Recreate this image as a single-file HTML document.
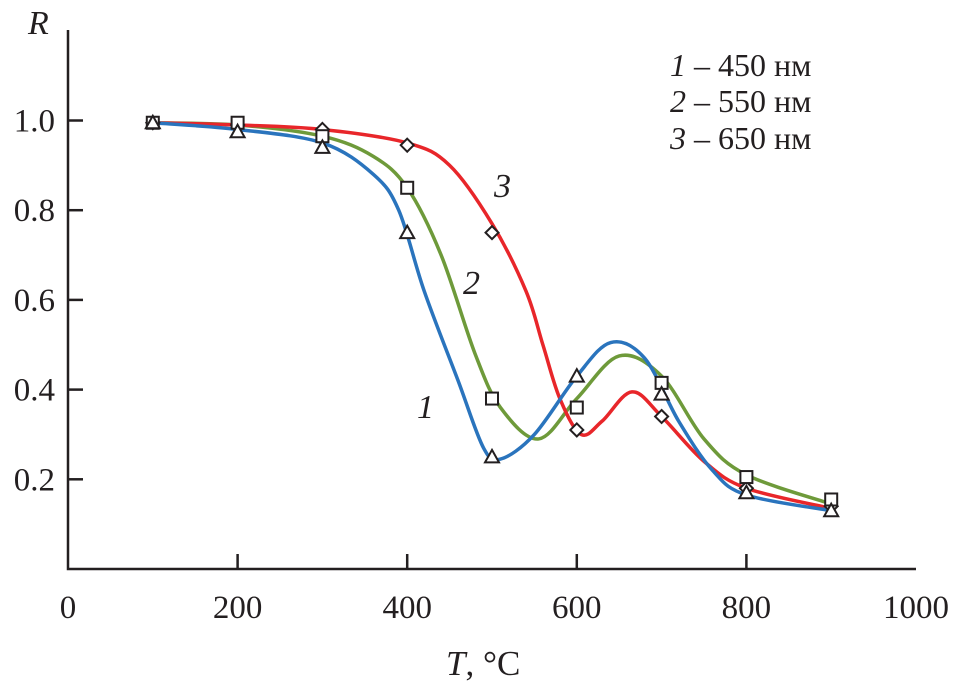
<!DOCTYPE html>
<html><head><meta charset="utf-8"><style>
body{margin:0;background:#fff}
svg text{font-family:"Liberation Serif",serif;fill:#231f20}
</style></head><body>
<svg id="chart" width="957" height="687" viewBox="0 0 957 687" xmlns="http://www.w3.org/2000/svg">
<g id="axes"></g>
<g id="curves"></g>
<g id="marks"></g>
<text x="28" y="34" font-size="34" font-style="italic">R</text>
<text x="446" y="675" font-size="35"><tspan font-style="italic">T</tspan>, °C</text>
<g font-size="32">
<text x="670" y="76"><tspan font-style="italic">1</tspan> – 450 нм</text>
<text x="670" y="112"><tspan font-style="italic">2</tspan> – 550 нм</text>
<text x="670" y="149"><tspan font-style="italic">3</tspan> – 650 нм</text>
</g>
<text x="417" y="418" font-size="34" font-style="italic">1</text>
<text x="463" y="294" font-size="34" font-style="italic">2</text>
<text x="494" y="197" font-size="34" font-style="italic">3</text>
</svg>
<script>
const xTicks=[0,200,400,600,800,1000];
const yTicks=[0.2,0.4,0.6,0.8,1.0];
const tempPoints=[100,200,300,400,500,600,700,800,900];
const s1Points=[0.995,0.975,0.94,0.75,0.25,0.43,0.39,0.17,0.13];
const s2Points=[0.995,0.995,0.965,0.85,0.38,0.36,0.415,0.205,0.155];
const s3Points=[0.995,0.99,0.98,0.945,0.75,0.31,0.34,0.18,0.14];
const c1X=[100,200,300,360,390,420,460,490,510,550,600,640,680,720,760,800,900];
const c1Y=[0.995,0.98,0.95,0.88,0.80,0.62,0.42,0.27,0.245,0.30,0.43,0.505,0.47,0.33,0.22,0.165,0.13];
const c2X=[100,200,300,360,400,440,480,510,555,600,650,700,750,800,900];
const c2Y=[0.995,0.99,0.965,0.92,0.85,0.70,0.48,0.36,0.29,0.38,0.475,0.43,0.29,0.21,0.145];
const c3X=[100,200,300,400,450,500,540,560,580,605,630,665,700,750,800,900];
const c3Y=[0.995,0.99,0.98,0.95,0.90,0.77,0.62,0.50,0.38,0.30,0.33,0.395,0.34,0.24,0.18,0.135];
const X=v=>68+v*0.848, Y=v=>569-v*448.5;
const NS='http://www.w3.org/2000/svg';
function mk(t,a,p){const e=document.createElementNS(NS,t);for(const k in a)e.setAttribute(k,a[k]);p.appendChild(e);return e;}
const ax=document.getElementById('axes');
let l=mk('path',{d:`M68 30V569H916`,fill:'none',stroke:'#231f20','stroke-width':2.5},ax);


xTicks.forEach(v=>{
 if(v>0&&v<1000){const t=mk('line',{x1:X(v),x2:X(v),y1:569,y2:554,stroke:'#231f20','stroke-width':2.5},ax);
 
 }
 const tx=mk('text',{x:X(v),y:618,'font-size':33,'text-anchor':'middle'},ax);tx.textContent=v;
 
 
});
yTicks.forEach(v=>{
 const t=mk('line',{x1:68,x2:83,y1:Y(v),y2:Y(v),stroke:'#231f20','stroke-width':2.5},ax);
 
 
 const tx=mk('text',{x:55,y:Y(v)+11,'font-size':33,'text-anchor':'end'},ax);tx.textContent=v.toFixed(1);
 
 
});
function spline(xs,ys){
 const p=xs.map((x,i)=>[X(x),Y(ys[i])]);let d=`M${p[0][0]} ${p[0][1]}`;
 for(let i=0;i<p.length-1;i++){const a=p[i-1]||p[i],b=p[i],c=p[i+1],e=p[i+2]||c;
  d+=`C${b[0]+(c[0]-a[0])/6} ${b[1]+(c[1]-a[1])/6} ${c[0]-(e[0]-b[0])/6} ${c[1]-(e[1]-b[1])/6} ${c[0]} ${c[1]}`;}
 return d;}
const cg=document.getElementById('curves');
[[c2X,c2Y,'#6e9a3a','curve-550nm'],[c3X,c3Y,'#e8262a','curve-650nm'],[c1X,c1Y,'#2a74bd','curve-450nm']].forEach(([xs,ys,col,n])=>{
 const p=mk('path',{d:spline(xs,ys),fill:'none',stroke:col,'stroke-width':3.5},cg);
 
 
});
const mg=document.getElementById('marks');
const st={fill:'#fff',stroke:'#231f20','stroke-width':2};
tempPoints.forEach((t,i)=>{
 let x=X(t),y=Y(s3Points[i]);
 let m=mk('path',Object.assign({d:`M${x} ${y-6.5}L${x+6.5} ${y}L${x} ${y+6.5}L${x-6.5} ${y}Z`},st),mg);
 
 
 y=Y(s2Points[i]);
 m=mk('rect',Object.assign({x:x-6,y:y-6,width:12,height:12},st),mg);
 
 
 y=Y(s1Points[i]);
 m=mk('path',Object.assign({d:`M${x} ${y-7}L${x+7} ${y+5.5}L${x-7} ${y+5.5}Z`},st),mg);
 
 
});
</script>
</body></html>
